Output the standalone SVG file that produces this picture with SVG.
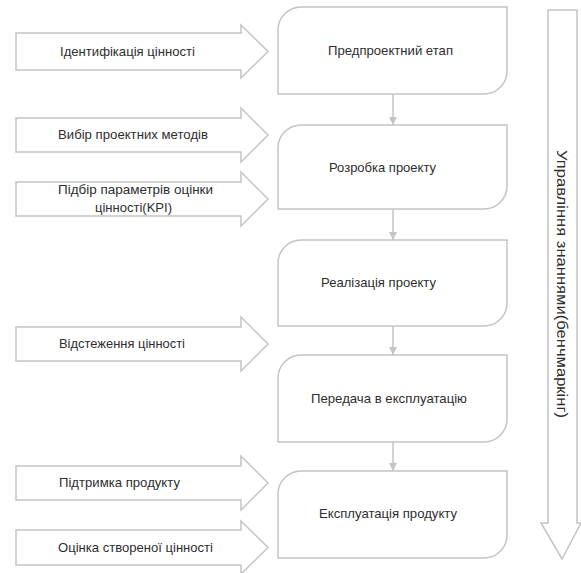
<svg xmlns="http://www.w3.org/2000/svg" width="581" height="573" viewBox="0 0 581 573">
<defs>
<style>
.shape{fill:#ffffff;stroke:#c4c4c4;stroke-width:1.5}
.lbl{font-family:"Liberation Sans",Arial,sans-serif;font-size:13.5px;fill:#2e2e2e}
.conn{stroke:#c4c4c4;stroke-width:1.5;fill:none}
</style>
<marker id="ah" viewBox="0 0 8 12" refX="8" refY="6" markerWidth="8" markerHeight="12" markerUnits="userSpaceOnUse" orient="auto">
<path d="M0,2 L8,6 L0,10 Z" fill="#c4c4c4"/>
</marker>
</defs>
<rect width="581" height="573" fill="#ffffff"/>

<g id="in1">
<path class="shape" d="M16,33 H241 V25 L268,51.5 L241,78 V70 H16 Z"/>
<text class="lbl" x="60" y="56" textLength="135" lengthAdjust="spacingAndGlyphs">Ідентифікація цінності</text>
</g>
<g id="in2">
<path class="shape" d="M16,118 H241 V108 L268,135 L241,162 V152 H16 Z"/>
<text class="lbl" x="58" y="139" textLength="150" lengthAdjust="spacingAndGlyphs">Вибір проектних методів</text>
</g>
<g id="in3">
<path class="shape" d="M16,182 H241 V172 L268,199 L241,226 V216 H16 Z"/>
<text class="lbl" x="58" y="194" textLength="155" lengthAdjust="spacingAndGlyphs">Підбір параметрів оцінки</text>
<text class="lbl" x="95" y="212" textLength="77" lengthAdjust="spacingAndGlyphs">цінності(KPI)</text>
</g>
<g id="in4">
<path class="shape" d="M16,327 H241 V317 L268,344 L241,371 V361 H16 Z"/>
<text class="lbl" x="59" y="348" textLength="126" lengthAdjust="spacingAndGlyphs">Відстеження цінності</text>
</g>
<g id="in5">
<path class="shape" d="M16,466 H241 V456 L268,483 L241,510 V500 H16 Z"/>
<text class="lbl" x="59" y="487" textLength="121" lengthAdjust="spacingAndGlyphs">Підтримка продукту</text>
</g>
<g id="in6">
<path class="shape" d="M16,530 H241 V521 L268,547.5 L241,574 V565 H16 Z"/>
<text class="lbl" x="58" y="552" textLength="155" lengthAdjust="spacingAndGlyphs">Оцінка створеної цінності</text>
</g>

<g id="stage1">
<path class="shape" d="M278,30 A23,23 0 0 1 301,7 H507 V71 A23,23 0 0 1 484,94 H278 Z"/>
<text class="lbl" x="328" y="55" textLength="125" lengthAdjust="spacingAndGlyphs">Предпроектний етап</text>
</g>
<g id="stage2">
<path class="shape" d="M278,148 A23,23 0 0 1 301,125 H507 V186 A23,23 0 0 1 484,209 H278 Z"/>
<text class="lbl" x="329" y="172" textLength="107" lengthAdjust="spacingAndGlyphs">Розробка проекту</text>
</g>
<g id="stage3">
<path class="shape" d="M278,263 A23,23 0 0 1 301,240 H507 V303 A23,23 0 0 1 484,326 H278 Z"/>
<text class="lbl" x="321" y="287" textLength="115" lengthAdjust="spacingAndGlyphs">Реалізація проекту</text>
</g>
<g id="stage4">
<path class="shape" d="M278,378 A23,23 0 0 1 301,355 H507 V419 A23,23 0 0 1 484,442 H278 Z"/>
<text class="lbl" x="311" y="403" textLength="156" lengthAdjust="spacingAndGlyphs">Передача в експлуатацію</text>
</g>
<g id="stage5">
<path class="shape" d="M278,494 A23,23 0 0 1 301,471 H507 V535 A23,23 0 0 1 484,558 H278 Z"/>
<text class="lbl" x="319" y="518" textLength="138" lengthAdjust="spacingAndGlyphs">Експлуатація продукту</text>
</g>

<g id="knowledge">
<path class="shape" d="M548,10 H577 V523 H581 L562,559 L541,523 H548 Z"/>
<text class="lbl" transform="translate(557,284) rotate(90)" text-anchor="middle" style="font-size:14.5px" textLength="268" lengthAdjust="spacingAndGlyphs">Управління знаннями(бенчмаркінг)</text>
</g>

<g id="connectors">
<line class="conn" x1="393" y1="94" x2="393" y2="125" marker-end="url(#ah)"/>
<line class="conn" x1="393" y1="209" x2="393" y2="240" marker-end="url(#ah)"/>
<line class="conn" x1="393" y1="326" x2="393" y2="355" marker-end="url(#ah)"/>
<line class="conn" x1="393" y1="442" x2="393" y2="471" marker-end="url(#ah)"/>
</g>
</svg>
